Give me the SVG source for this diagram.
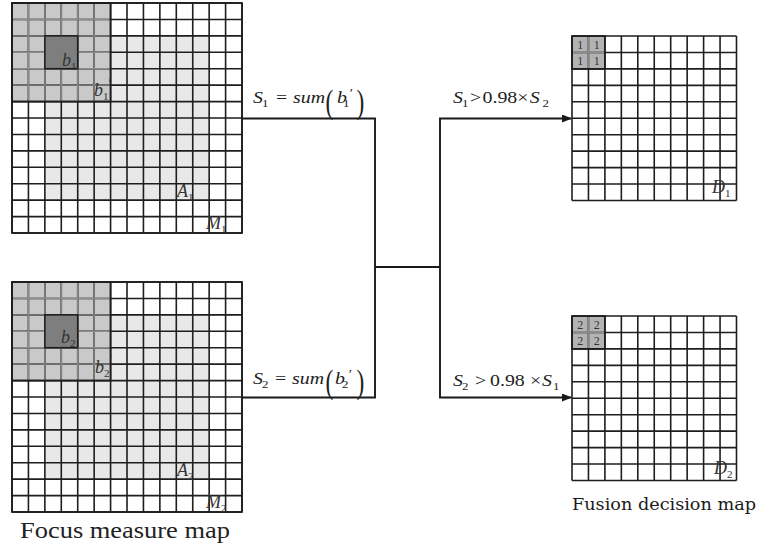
<svg xmlns="http://www.w3.org/2000/svg" xmlns:xlink="http://www.w3.org/1999/xlink" width="758" height="549" viewBox="0 0 758 549" font-family="Liberation Serif, Times New Roman, serif">
<style>
.grid{fill:none;stroke:#1e1e1e;stroke-width:1.6}
.inner{fill:none;stroke:#8c8c8c;stroke-width:1.3}
.edge{fill:none;stroke:#1e1e1e;stroke-width:1.7}
.conn{fill:none;stroke:#1a1a1a;stroke-width:1.9}
.it{font-style:italic;fill:#222}
.rm{fill:#222}
.lbl{font-style:italic;font-size:18px;fill:#333}
.sub{font-size:11px;font-style:normal}
.num{font-size:12px;fill:#333;text-anchor:middle}
</style>
<defs>
<marker id="arr" viewBox="0 0 10 8" refX="9" refY="4" markerWidth="10" markerHeight="8" markerUnits="userSpaceOnUse" orient="auto">
<path d="M0 0L10 4L0 8Z" fill="#1a1a1a"/>
</marker>
<g id="bigmap">
<rect x="32.86" y="32.86" width="164.3" height="164.3" fill="#e8e8e8"/>
<rect x="0" y="0" width="98.58" height="98.58" fill="#c9c9c9"/>
<path class="grid" d="M0 0V230M16.43 0V230M32.86 0V230M49.29 0V230M65.72 0V230M82.15 0V230M98.58 0V230M115.01 0V230M131.44 0V230M147.87 0V230M164.3 0V230M180.73 0V230M197.16 0V230M213.59 0V230M230 0V230M0 0H230M0 16.43H230M0 32.86H230M0 49.29H230M0 65.72H230M0 82.15H230M0 98.58H230M0 115.01H230M0 131.44H230M0 147.87H230M0 164.3H230M0 180.73H230M0 197.16H230M0 213.59H230M0 230H230"/>
<path class="inner" d="M16.43 0.9V97.7M32.86 0.9V97.7M49.29 0.9V97.7M65.72 0.9V97.7M82.15 0.9V97.7M0.9 16.43H97.7M0.9 32.86H97.7M0.9 49.29H97.7M0.9 65.72H97.7M0.9 82.15H97.7"/>
<rect x="32.86" y="32.86" width="32.86" height="32.86" fill="#7e7e7e" stroke="#1e1e1e" stroke-width="1.6"/>
<rect class="edge" x="0" y="0" width="98.58" height="98.58"/>
<rect class="edge" x="0" y="0" width="230" height="230"/>
</g>
<g id="decmap">
<rect x="0" y="0" width="32.9" height="32.9" fill="#b3b3b3"/>
<path class="grid" d="M0 0V164.5M16.45 0V164.5M32.9 0V164.5M49.35 0V164.5M65.8 0V164.5M82.25 0V164.5M98.7 0V164.5M115.15 0V164.5M131.6 0V164.5M148.05 0V164.5M164.5 0V164.5M0 0H164.5M0 16.45H164.5M0 32.9H164.5M0 49.35H164.5M0 65.8H164.5M0 82.25H164.5M0 98.7H164.5M0 115.15H164.5M0 131.6H164.5M0 148.05H164.5M0 164.5H164.5"/>
<path class="inner" d="M16.45 0.9V32M0.9 16.45H32"/>
<rect class="edge" x="0" y="0" width="32.9" height="32.9"/>
</g>
</defs>

<g id="M1">
<use xlink:href="#bigmap" transform="translate(12,3)"/>
<text class="lbl" x="62" y="66">b<tspan class="sub" dy="4">1</tspan></text>
<text class="lbl" x="94" y="96">b<tspan class="sub" dy="4">1</tspan><tspan dy="-13" font-size="13" font-style="normal">′</tspan></text>
<text class="lbl" x="177" y="197">A<tspan class="sub" dy="4">1</tspan></text>
<text class="lbl" x="206" y="229">M<tspan class="sub" dy="4">1</tspan></text>
</g>

<g id="M2">
<use xlink:href="#bigmap" transform="translate(12,282)"/>
<text class="lbl" x="61" y="343">b<tspan class="sub" dy="4">2</tspan></text>
<text class="lbl" x="95" y="373">b<tspan class="sub" dy="4">2</tspan><tspan dy="-13" font-size="13" font-style="normal">′</tspan></text>
<text class="lbl" x="177" y="476">A<tspan class="sub" dy="4">2</tspan></text>
<text class="lbl" x="206" y="508">M<tspan class="sub" dy="4">2</tspan></text>
</g>

<g id="D1">
<use xlink:href="#decmap" transform="translate(572,36)"/>
<text class="num" x="580.2" y="48.5">1</text>
<text class="num" x="596.7" y="48.5">1</text>
<text class="num" x="580.2" y="65">1</text>
<text class="num" x="596.7" y="65">1</text>
<text class="lbl" x="712" y="193">D<tspan class="sub" dy="4">1</tspan></text>
</g>

<g id="D2">
<use xlink:href="#decmap" transform="translate(572,316)"/>
<text class="num" x="580.2" y="328.5">2</text>
<text class="num" x="596.7" y="328.5">2</text>
<text class="num" x="580.2" y="345">2</text>
<text class="num" x="596.7" y="345">2</text>
<text class="lbl" x="714" y="474">D<tspan class="sub" dy="4">2</tspan></text>
</g>

<g id="connectors">
<path class="conn" d="M242 118.5H375V397.5H242"/>
<path class="conn" d="M375 267H440"/>
<path class="conn" d="M440 267V118.5H571" marker-end="url(#arr)"/>
<path class="conn" d="M440 267V397.5H571" marker-end="url(#arr)"/>
</g>

<g id="formula-s1" font-size="17" transform="translate(253,103) scale(1.17,1)">
<text class="it" x="0" y="0">S<tspan class="sub" x="7.7" y="4">1</tspan></text>
<text class="rm" x="19.7" y="0">=</text>
<text class="it" x="34.2" y="0">sum</text>
<text class="rm" font-size="20" transform="translate(62,10) scale(1,1.65)">(</text>
<text class="it" x="71.8" y="0">b<tspan class="sub" x="76.9" y="4">1</tspan><tspan font-style="normal" font-size="13" x="82.6" y="-6">′</tspan></text>
<text class="rm" font-size="20" transform="translate(88.5,10) scale(1,1.65)">)</text>
</g>

<g id="formula-c1" font-size="17" transform="translate(453,103) scale(1.17,1)">
<text class="it" x="0" y="0">S<tspan class="sub" x="7.7" y="4">1</tspan></text>
<text class="rm" x="14.5" y="0">&gt;</text>
<text class="rm" x="25.2" y="0">0.98</text>
<text class="rm" x="55" y="0">×</text>
<text class="it" x="65.5" y="0">S<tspan class="sub" x="76.5" y="4">2</tspan></text>
</g>

<g id="formula-s2" font-size="17" transform="translate(253,384) scale(1.17,1)">
<text class="it" x="0" y="0">S<tspan class="sub" x="7.7" y="4">2</tspan></text>
<text class="rm" x="18.8" y="0">=</text>
<text class="it" x="33.3" y="0">sum</text>
<text class="rm" font-size="20" transform="translate(62,9) scale(1,1.65)">(</text>
<text class="it" x="70.1" y="0">b<tspan class="sub" x="76.1" y="4">2</tspan><tspan font-style="normal" font-size="13" x="81.9" y="-6">′</tspan></text>
<text class="rm" font-size="20" transform="translate(88.5,9) scale(1,1.65)">)</text>
</g>

<g id="formula-c2" font-size="17" transform="translate(453,386) scale(1.17,1)">
<text class="it" x="0" y="0">S<tspan class="sub" x="7.7" y="4">2</tspan></text>
<text class="rm" x="18.8" y="0">&gt;</text>
<text class="rm" x="31.6" y="0">0.98</text>
<text class="rm" x="65.8" y="0">×</text>
<text class="it" x="76.1" y="0">S<tspan class="sub" x="85.5" y="4">1</tspan></text>
</g>

<g id="captions">
<text class="rm" x="20" y="538" font-size="23" textLength="210" lengthAdjust="spacingAndGlyphs" fill="#111">Focus measure map</text>
<text x="572" y="510" font-family="DejaVu Serif, Liberation Serif, serif" font-size="17" fill="#1a1a1a" textLength="184" lengthAdjust="spacingAndGlyphs">Fusion decision map</text>
</g>
</svg>
